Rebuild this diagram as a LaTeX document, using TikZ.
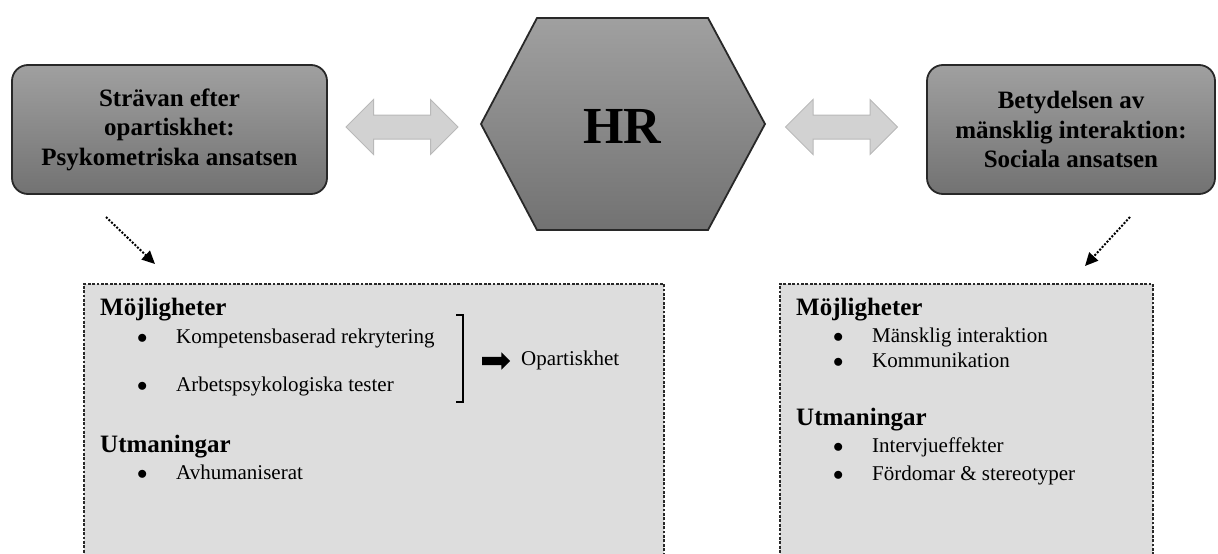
\documentclass[tikz,border=0pt]{standalone}
\usepackage{fontspec}
\setmainfont{Liberation Serif}
\usetikzlibrary{shapes, arrows.meta, calc}
\definecolor{boxtop}{RGB}{160,160,160}
\definecolor{boxbot}{RGB}{114,114,114}
\definecolor{boxline}{RGB}{40,40,40}
\definecolor{arrowfill}{RGB}{210,210,210}
\definecolor{arrowline}{RGB}{185,185,185}
\definecolor{notefill}{RGB}{221,221,221}
\definecolor{noteline}{RGB}{40,40,40}

\begin{document}
\begin{tikzpicture}[x=1pt,y=-1pt]
      \tikzset{title box/.style={draw=boxline,
          line width=1.8pt,
          rounded corners=16pt,
          top color=boxtop,
          bottom color=boxbot,
          minimum height=129pt,
          align=center,
          inner sep=0pt,
          font=\fontsize{25}{29.5}\selectfont\bfseries},
        both arrow/.style={double arrow,
          draw=arrowline,
          line width=1pt,
          fill=arrowfill,
          inner xsep=0pt,
          inner ysep=11.5pt,
          double arrow head extend=15.5pt,
          minimum height=112pt},
        hint arrow/.style={dash pattern=on 2pt off 1.6pt,
          line width=2pt,
          -{Triangle[length=13pt,width=12pt]}},
        note box/.style={draw=noteline,
          fill=notefill,
          line width=1.7pt,
          dash pattern=on 2.8pt off 1.6pt,
          anchor=north west,
          minimum height=290pt,
          inner sep=0pt},
        head text/.style={anchor=base west,
          inner sep=0pt,
          font=\fontsize{25}{30}\selectfont\bfseries},
        item text/.style={anchor=base west,
          inner sep=0pt,
          font=\fontsize{21}{25}\selectfont}
      }
      \useasboundingbox (0,0) rectangle (1218,554);

      % top row
      \node [title box, minimum width=315pt] (L) at (169.5,129.5)
        {Strävan efter\\opartiskhet:\\Psykometriska ansatsen};
      \node [title box, minimum width=288pt] (R) at (1071,129.5)
        {Betydelsen av\\mänsklig interaktion:\\Sociala ansatsen};
      \draw [draw=boxline, line width=1.8pt, top color=boxtop, bottom color=boxbot]
        (481,124) -- (537,18) -- (708,18) -- (765,124) -- (708,230) -- (537,230) -- cycle;
      \node [font=\fontsize{52}{56}\selectfont\bfseries, inner sep=0pt] (HR) at (622,126) {HR};
      \node [both arrow] (LA) at (402,127) {};
      \node [both arrow] (RA) at (841.5,127) {};

      % dotted arrows
      \coordinate (L1) at (106,217);
      \coordinate (L2) at (155,264);
      \coordinate (R1) at (1130,217);
      \coordinate (R2) at (1085,266);
      \draw [hint arrow] (L1)--(L2);
      \draw [hint arrow] (R1)--(R2);

      % left note
      \node [note box, minimum width=580pt] (LB) at (83,283) {};
      \node [head text] (LM) at (100,315) {Möjligheter};
      \node [item text] (LM1) at (137,343) {\makebox[39pt][l]{$\bullet$}Kompetensbaserad rekrytering};
      \node [item text] (LM2) at (137,391) {\makebox[39pt][l]{$\bullet$}Arbetspsykologiska tester};
      \node [head text] (LU) at (100,452) {Utmaningar};
      \node [item text] (LU1) at (137,479) {\makebox[39pt][l]{$\bullet$}Avhumaniserat};
      \draw [line width=2.6pt] (456,315) -- (463,315) -- (463,402) -- (456,402);
      \node [single arrow, fill=black, inner xsep=0pt, inner ysep=4pt,
        single arrow head extend=4.5pt, minimum height=28pt] (LX) at (494,361) {};
      \node [item text] (LO) at (521,365) {Opartiskhet};

      % right note
      \node [note box, minimum width=373pt] (RB) at (779,283) {};
      \node [head text] (RM) at (796,315) {Möjligheter};
      \node [item text] (RM1) at (833,342) {\makebox[39pt][l]{$\bullet$}Mänsklig interaktion};
      \node [item text] (RM2) at (833,367) {\makebox[39pt][l]{$\bullet$}Kommunikation};
      \node [head text] (RU) at (796,425) {Utmaningar};
      \node [item text] (RU1) at (833,452) {\makebox[39pt][l]{$\bullet$}Intervjueffekter};
      \node [item text] (RU2) at (833,480) {\makebox[39pt][l]{$\bullet$}Fördomar \& stereotyper};

    \end{tikzpicture}
\end{document}
